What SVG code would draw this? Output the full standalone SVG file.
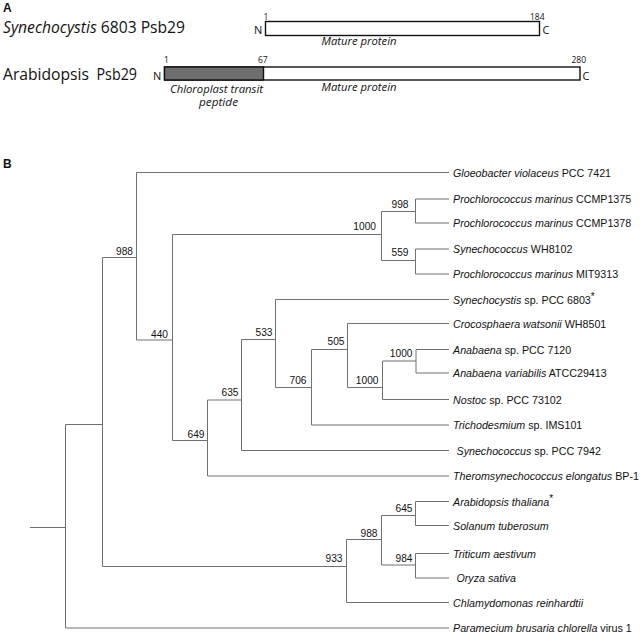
<svg xmlns="http://www.w3.org/2000/svg" width="640" height="634" viewBox="0 0 640 634">
<style>
.pa{font-family:"Open Sans","Noto Sans","Liberation Sans",sans-serif;fill:#111}
.big{font-size:16.5px}
.sm{font-size:8.5px}
.nc{font-size:11px}
.it{font-style:italic}
.mp{font-size:11px;font-style:italic}
.hd{font-family:"Liberation Sans",Arial,sans-serif;font-weight:bold;font-size:12px;fill:#111}
.bar{stroke:#111;stroke-width:1.4}
.tr{fill:none;stroke:#707070;stroke-width:1}
.lf{font-family:"Liberation Sans",Arial,sans-serif;font-size:10.7px;fill:#111}
.bs{font-family:"Liberation Sans",Arial,sans-serif;font-size:10.2px;fill:#111;text-anchor:end}
</style>
<rect width="640" height="634" fill="#fff"/>
<g id="panelA">
  <text class="hd" x="3" y="12">A</text>
  <g id="syn-protein">
    <text class="pa big" x="3" y="33" textLength="182" lengthAdjust="spacingAndGlyphs"><tspan class="it">Synechocystis</tspan> 6803 Psb29</text>
    <rect class="bar" x="265.5" y="21.5" width="274" height="14" fill="#fff"/>
    <text class="pa nc" x="254" y="33.5">N</text>
    <text class="pa nc" x="542.5" y="33.5">C</text>
    <text class="pa sm" x="263.5" y="19.5">1</text>
    <text class="pa sm" x="530" y="19.5">184</text>
    <text class="pa mp" x="321.5" y="45" textLength="75" lengthAdjust="spacingAndGlyphs">Mature protein</text>
  </g>
  <g id="ara-protein">
    <text class="pa big" x="3" y="80"><tspan textLength="86" lengthAdjust="spacingAndGlyphs">Arabidopsis</tspan><tspan x="96.5" textLength="40.5" lengthAdjust="spacingAndGlyphs">Psb29</tspan></text>
    <rect class="bar" x="164.5" y="67" width="415.5" height="13" fill="#fff"/>
    <rect class="bar" x="164.5" y="67" width="99" height="13" fill="#6e6e6e"/>
    <text class="pa nc" x="153" y="79.5">N</text>
    <text class="pa nc" x="582.5" y="79.5">C</text>
    <text class="pa sm" x="164" y="63">1</text>
    <text class="pa sm" x="258" y="63">67</text>
    <text class="pa sm" x="571.5" y="63">280</text>
    <text class="pa mp" x="170" y="92.5" textLength="93" lengthAdjust="spacingAndGlyphs">Chloroplast transit</text>
    <text class="pa mp" x="199" y="106" textLength="39" lengthAdjust="spacingAndGlyphs">peptide</text>
    <text class="pa mp" x="321.5" y="90.5" textLength="75" lengthAdjust="spacingAndGlyphs">Mature protein</text>
  </g>
</g>
<text class="hd" x="3" y="168">B</text>
<g id="connectors" class="tr">
  <path d="M30 527.5H65.5M65.5 424.5V628M65.5 424.5H102.5M65.5 628H449"/>
  <path d="M102.5 257.5V566.5M102.5 257.5H136.5M102.5 566.5H346.5"/>
  <path d="M136.5 172.5V340M136.5 172.5H449M136.5 340H172.5"/>
  <path d="M172.5 234.5V440.5M172.5 234.5H381.5M172.5 440.5H207.5"/>
  <path d="M381.5 211.5V260.5M381.5 211.5H415.5M381.5 260.5H415.5"/>
  <path d="M415.5 199V223M415.5 199H449M415.5 223H449"/>
  <path d="M415.5 249V274M415.5 249H449M415.5 274H449"/>
  <path d="M207.5 400V476M207.5 400H241.5M207.5 476H449"/>
  <path d="M241.5 339.5V450.5M241.5 339.5H275.5M241.5 450.5H449"/>
  <path d="M275.5 299.5V387.5M275.5 299.5H449M275.5 387.5H311.5"/>
  <path d="M311.5 349.5V425M311.5 349.5H347.5M311.5 425H449"/>
  <path d="M347.5 323.5V387.5M347.5 323.5H449M347.5 387.5H382.5"/>
  <path d="M382.5 361V399.5M382.5 361H416M382.5 399.5H449"/>
  <path d="M416 349.5V373M416 349.5H449M416 373H449"/>
  <path d="M346.5 539.5V602.5M346.5 539.5H381.5M346.5 602.5H449"/>
  <path d="M381.5 515.5V565M381.5 515.5H415.5M381.5 565H415.5"/>
  <path d="M415.5 501.5V525.5M415.5 501.5H449M415.5 525.5H449"/>
  <path d="M415.5 553.5V578M415.5 553.5H449M415.5 578H449"/>
</g>
<g id="leaves">
  <g id="leaf-gloeobacter"><text class="lf" x="453" y="176.5"><tspan class="it">Gloeobacter violaceus</tspan> PCC 7421</text></g>
  <g id="leaf-ccmp1375"><text class="lf" x="453" y="203"><tspan class="it">Prochlorococcus marinus</tspan> CCMP1375</text></g>
  <g id="leaf-ccmp1378"><text class="lf" x="453" y="227"><tspan class="it">Prochlorococcus marinus</tspan> CCMP1378</text></g>
  <g id="leaf-wh8102"><text class="lf" x="453" y="253"><tspan class="it">Synechococcus</tspan> WH8102</text></g>
  <g id="leaf-mit9313"><text class="lf" x="453" y="278"><tspan class="it">Prochlorococcus marinus</tspan> MIT9313</text></g>
  <g id="leaf-syn6803"><text class="lf" x="453" y="303.5"><tspan class="it">Synechocystis</tspan> sp. PCC 6803<tspan font-size="10" dy="-4">*</tspan></text></g>
  <g id="leaf-croco"><text class="lf" x="453" y="327.5"><tspan class="it">Crocosphaera watsonii</tspan> WH8501</text></g>
  <g id="leaf-ana7120"><text class="lf" x="453" y="353.5"><tspan class="it">Anabaena</tspan> sp. PCC 7120</text></g>
  <g id="leaf-anavar"><text class="lf" x="453" y="377"><tspan class="it">Anabaena variabilis</tspan> ATCC29413</text></g>
  <g id="leaf-nostoc"><text class="lf" x="453" y="403.5"><tspan class="it">Nostoc</tspan> sp. PCC 73102</text></g>
  <g id="leaf-tricho"><text class="lf" x="453" y="429"><tspan class="it">Trichodesmium</tspan> sp. IMS101</text></g>
  <g id="leaf-syn7942"><text class="lf" x="456.5" y="454.5"><tspan class="it">Synechococcus</tspan> sp. PCC 7942</text></g>
  <g id="leaf-therom"><text class="lf" x="453" y="480"><tspan class="it">Theromsynechococcus elongatus</tspan> BP-1</text></g>
  <g id="leaf-arabidopsis"><text class="lf" x="453" y="505.5"><tspan class="it">Arabidopsis thaliana</tspan><tspan font-size="10" dy="-4">*</tspan></text></g>
  <g id="leaf-solanum"><text class="lf it" x="453" y="529.5">Solanum tuberosum</text></g>
  <g id="leaf-triticum"><text class="lf it" x="453" y="557.5">Triticum aestivum</text></g>
  <g id="leaf-oryza"><text class="lf it" x="456.5" y="582">Oryza sativa</text></g>
  <g id="leaf-chlamy"><text class="lf it" x="453" y="606.5">Chlamydomonas reinhardtii</text></g>
  <g id="leaf-paramecium"><text class="lf" x="453" y="632"><tspan class="it">Paramecium brusaria chlorella</tspan> virus 1</text></g>
</g>
<g id="support">
  <g id="n988a"><text class="bs" x="133" y="254.5">988</text></g>
  <g id="n440"><text class="bs" x="168" y="337.5">440</text></g>
  <g id="n1000a"><text class="bs" x="376" y="229.5">1000</text></g>
  <g id="n998"><text class="bs" x="408.5" y="207.5">998</text></g>
  <g id="n559"><text class="bs" x="408.5" y="256">559</text></g>
  <g id="n533"><text class="bs" x="272.5" y="336">533</text></g>
  <g id="n635"><text class="bs" x="238.5" y="396">635</text></g>
  <g id="n649"><text class="bs" x="204.5" y="438">649</text></g>
  <g id="n706"><text class="bs" x="306.5" y="384">706</text></g>
  <g id="n505"><text class="bs" x="344.5" y="345">505</text></g>
  <g id="n1000c"><text class="bs" x="412.5" y="357">1000</text></g>
  <g id="n1000b"><text class="bs" x="378.5" y="384">1000</text></g>
  <g id="n933"><text class="bs" x="342.5" y="562">933</text></g>
  <g id="n988b"><text class="bs" x="377.5" y="537">988</text></g>
  <g id="n645"><text class="bs" x="412.5" y="512">645</text></g>
  <g id="n984"><text class="bs" x="412.5" y="562">984</text></g>
</g>
</svg>
